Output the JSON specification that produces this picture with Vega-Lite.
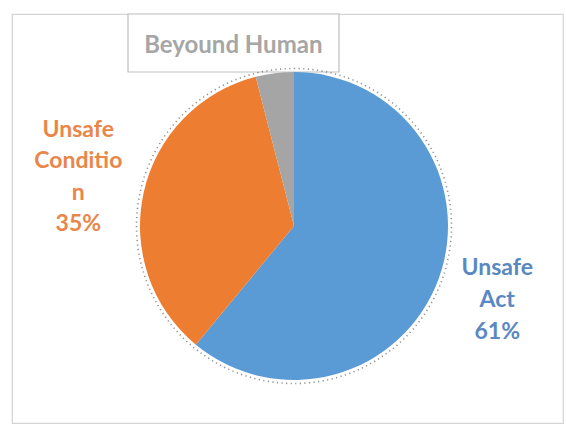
{
  "$schema": "https://vega.github.io/schema/vega-lite/v6.json",
  "width": 551,
  "height": 409,
  "autosize": {"type": "none"},
  "padding": {"left": 12, "top": 14, "right": 3, "bottom": 5},
  "background": "white",
  "view": {"stroke": "#D4D4D4", "strokeWidth": 1.2},
  "config": {"view": {"stroke": "#D4D4D4", "strokeWidth": 1.2}},
  "data": {
    "values": [
      {"idx": 1, "cause": "Unsafe Act", "share": 61, "label": "Unsafe|Act|61%"},
      {"idx": 2, "cause": "Unsafe Condition", "share": 35, "label": "Unsafe|Conditio|n|35%"},
      {"idx": 3, "cause": "Beyound Human", "share": 4, "label": "Beyound Human"}
    ]
  },
  "layer": [
    {
      "data": {"values": [{}]},
      "mark": {
        "type": "point",
        "shape": "M-1,-0.2749L1,-0.2749L1,0.2749L-1,0.2749Z",
        "size": 44521,
        "x": 221.5,
        "y": 29,
        "filled": false,
        "fill": "white",
        "fillOpacity": 1,
        "stroke": "#BFBFBF",
        "strokeWidth": 1.2,
        "opacity": 1
      },
      "encoding": {}
    },
    {
      "mark": {"type": "arc", "radius": 154, "x": {"expr": "width/2 + 6.5"}, "y": {"expr": "height/2 + 7.5"}},
      "encoding": {
        "theta": {"field": "share", "type": "quantitative", "stack": true},
        "order": {"field": "idx", "type": "quantitative"},
        "color": {
          "field": "cause",
          "type": "nominal",
          "scale": {"domain": ["Unsafe Act", "Unsafe Condition", "Beyound Human"], "range": ["#5B9BD5", "#ED7D31", "#A5A5A5"]},
          "legend": null
        }
      }
    },
    {
      "data": {"values": [{}]},
      "mark": {
        "type": "arc",
        "radius": 157.5,
        "theta": 0,
        "theta2": 6.2832,
        "x": {"expr": "width/2 + 6.5"},
        "y": {"expr": "height/2 + 7.5"},
        "fill": null,
        "fillOpacity": 0,
        "stroke": "#3A3A3A",
        "strokeWidth": 1.6,
        "strokeDash": [1.2, 3.4],
        "opacity": 0.55
      },
      "encoding": {}
    },
    {
      "mark": {
        "type": "text",
        "font": "Lato",
        "fontWeight": "bold",
        "fontSize": 23,
        "lineHeight": 32,
        "lineBreak": "|",
        "align": "center",
        "baseline": "middle",
        "radius": 216,
        "dy": -31,
        "x": {"expr": "width/2 + 6.5"},
        "y": {"expr": "height/2 + 7.5"}
      },
      "encoding": {
        "theta": {"field": "share", "type": "quantitative", "stack": true},
        "order": {"field": "idx", "type": "quantitative"},
        "text": {"condition": {"test": "datum.cause === 'Unsafe Act'", "field": "label"}, "value": ""},
        "fill": {
          "field": "cause",
          "type": "nominal",
          "scale": {"domain": ["Unsafe Act", "Unsafe Condition", "Beyound Human"], "range": ["#5A88C2", "#E9864A", "#A6A6A6"]},
          "legend": null
        }
      }
    },
    {
      "mark": {
        "type": "text",
        "font": "Lato",
        "fontWeight": "bold",
        "fontSize": 23,
        "lineHeight": 31.5,
        "lineBreak": "|",
        "align": "center",
        "baseline": "middle",
        "radius": 221,
        "dy": -48,
        "x": {"expr": "width/2 + 6.5"},
        "y": {"expr": "height/2 + 7.5"}
      },
      "encoding": {
        "theta": {"field": "share", "type": "quantitative", "stack": true},
        "order": {"field": "idx", "type": "quantitative"},
        "text": {"condition": {"test": "datum.cause === 'Unsafe Condition'", "field": "label"}, "value": ""},
        "fill": {
          "field": "cause",
          "type": "nominal",
          "scale": {"domain": ["Unsafe Act", "Unsafe Condition", "Beyound Human"], "range": ["#5A88C2", "#E9864A", "#A6A6A6"]},
          "legend": null
        }
      }
    },
    {
      "mark": {
        "type": "text",
        "font": "Lato",
        "fontWeight": "bold",
        "fontSize": 24,
        "align": "center",
        "baseline": "middle",
        "radius": 181,
        "dx": -38,
        "x": {"expr": "width/2 + 6.5"},
        "y": {"expr": "height/2 + 7.5"}
      },
      "encoding": {
        "theta": {"field": "share", "type": "quantitative", "stack": true},
        "order": {"field": "idx", "type": "quantitative"},
        "text": {"condition": {"test": "datum.cause === 'Beyound Human'", "field": "label"}, "value": ""},
        "fill": {
          "field": "cause",
          "type": "nominal",
          "scale": {"domain": ["Unsafe Act", "Unsafe Condition", "Beyound Human"], "range": ["#5A88C2", "#E9864A", "#A6A6A6"]},
          "legend": null
        }
      }
    }
  ]
}
